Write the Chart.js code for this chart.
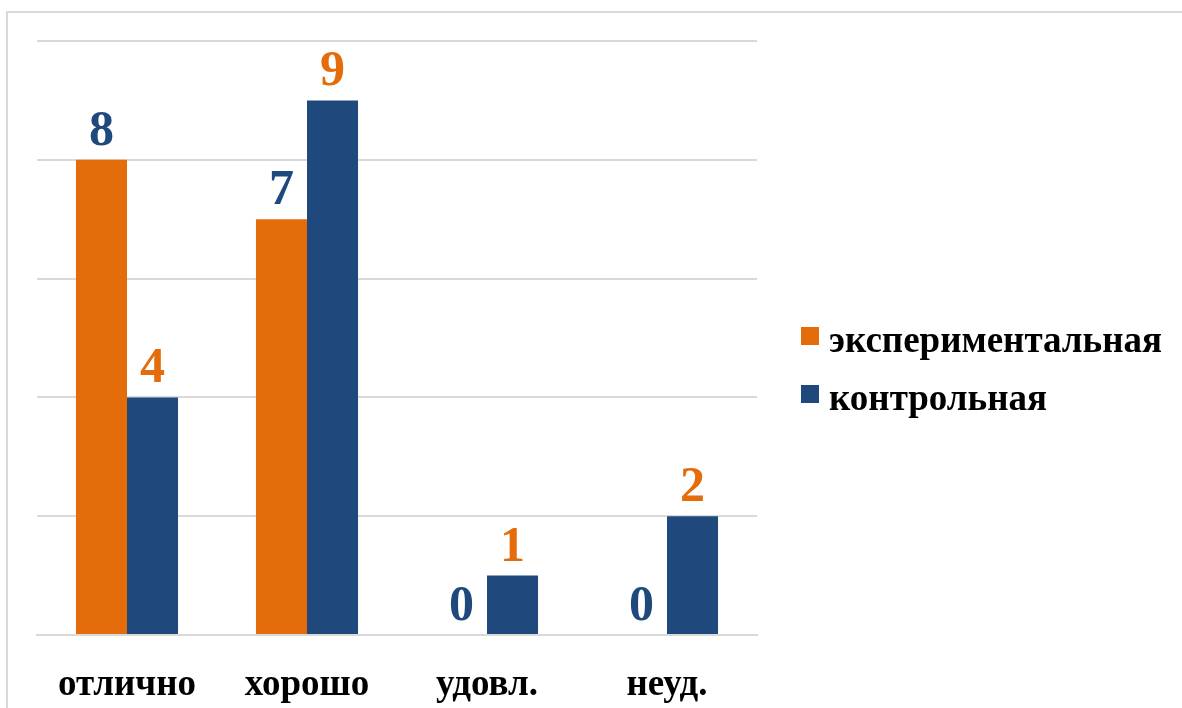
<!DOCTYPE html>
<html>
<head>
<meta charset="utf-8">
<script src="https://cdn.jsdelivr.net/npm/chart.js@4"></script>
<style>
    html, body { margin: 0; padding: 0; background: #fff; overflow: hidden; }
    #wrap { position: relative; width: 1182px; height: 708px; }
    #frame {
        position: absolute; left: 6px; top: 11px; width: 1300px; height: 800px;
        border: 2px solid #d9d9d9; box-sizing: border-box;
    }
    canvas { position: absolute; left: 0; top: 0; }
    .legend-item {
        position: absolute; left: 801px; height: 37px;
        font: bold 37px "Liberation Serif", "Times New Roman", serif;
        line-height: 37px; color: #000; white-space: nowrap;
    }
    .legend-item .box {
        position: absolute; left: 0; width: 18px; height: 18px;
    }
    .legend-item .txt { position: absolute; left: 28px; top: 0; }
</style>
</head>
<body>
<div id="wrap">
    <div id="frame"></div>
    <canvas id="chart" width="1182" height="708"></canvas>
    <div id="legend"></div>
</div>
<script>
const categories = ['отлично', 'хорошо', 'удовл.', 'неуд.'];
const seriesNames = ['экспериментальная', 'контрольная'];
const experimental = [8, 7, 0, 0];
const control = [4, 9, 1, 2];
const yTicks = [0, 2, 4, 6, 8, 10];

const ORANGE = '#E46C0A';
const BLUE = '#1F497D';
const SERIF = '"Liberation Serif", "Times New Roman", serif';
const seriesColors = [ORANGE, BLUE];

// value labels: orange bars get blue numbers and vice versa, like the original
const labelColors = [BLUE, ORANGE];

const valueLabels = {
    id: 'valueLabels',
    afterDatasetsDraw(chart) {
        const ctx = chart.ctx;
        chart.data.datasets.forEach((ds, i) => {
            const meta = chart.getDatasetMeta(i);
            meta.data.forEach((bar, j) => {
                ctx.save();
                ctx.font = 'bold 50px ' + SERIF;
                ctx.fillStyle = labelColors[i];
                ctx.textAlign = 'center';
                ctx.textBaseline = 'alphabetic';
                ctx.fillText(String(ds.data[j]), bar.x, bar.y - 15);
                ctx.restore();
            });
        });
    }
};

new Chart(document.getElementById('chart'), {
    type: 'bar',
    data: {
        labels: categories,
        datasets: [
            { label: seriesNames[0], data: experimental, backgroundColor: seriesColors[0] },
            { label: seriesNames[1], data: control, backgroundColor: seriesColors[1] }
        ]
    },
    options: {
        responsive: false,
        animation: false,
        devicePixelRatio: 1,
        layout: { padding: { left: 0, top: 41, right: 425, bottom: 0 } },
        datasets: { bar: { categoryPercentage: 0.567, barPercentage: 1 } },
        plugins: {
            tooltip: { enabled: false },
            legend: { display: false }
        },
        scales: {
            x: {
                afterFit(scale) { scale.height = 73; },
                grid: { display: false },
                border: { color: '#d9d9d9', width: 2 },
                ticks: {
                    color: '#000',
                    padding: 20,
                    maxRotation: 0,
                    font: { family: SERIF, size: 37, weight: 'bold' }
                }
            },
            y: {
                min: 0,
                max: 10,
                afterBuildTicks(scale) { scale.ticks = yTicks.map(v => ({ value: v })); },
                afterFit(scale) { scale.width = 37; },
                grid: { color: '#d9d9d9', lineWidth: 2, drawTicks: false },
                border: { display: false },
                ticks: { display: false }
            }
        }
    },
    plugins: [valueLabels]
});

// legend on the right, same look as the original
const legendEl = document.getElementById('legend');
seriesNames.forEach((name, i) => {
    const item = document.createElement('div');
    item.className = 'legend-item';
    item.style.top = (321 + i * 58) + 'px';
    item.innerHTML = `<span class="box" style="top:6px;background:${seriesColors[i]}"></span><span class="txt">${name}</span>`;
    legendEl.appendChild(item);
});
</script>
</body>
</html>
